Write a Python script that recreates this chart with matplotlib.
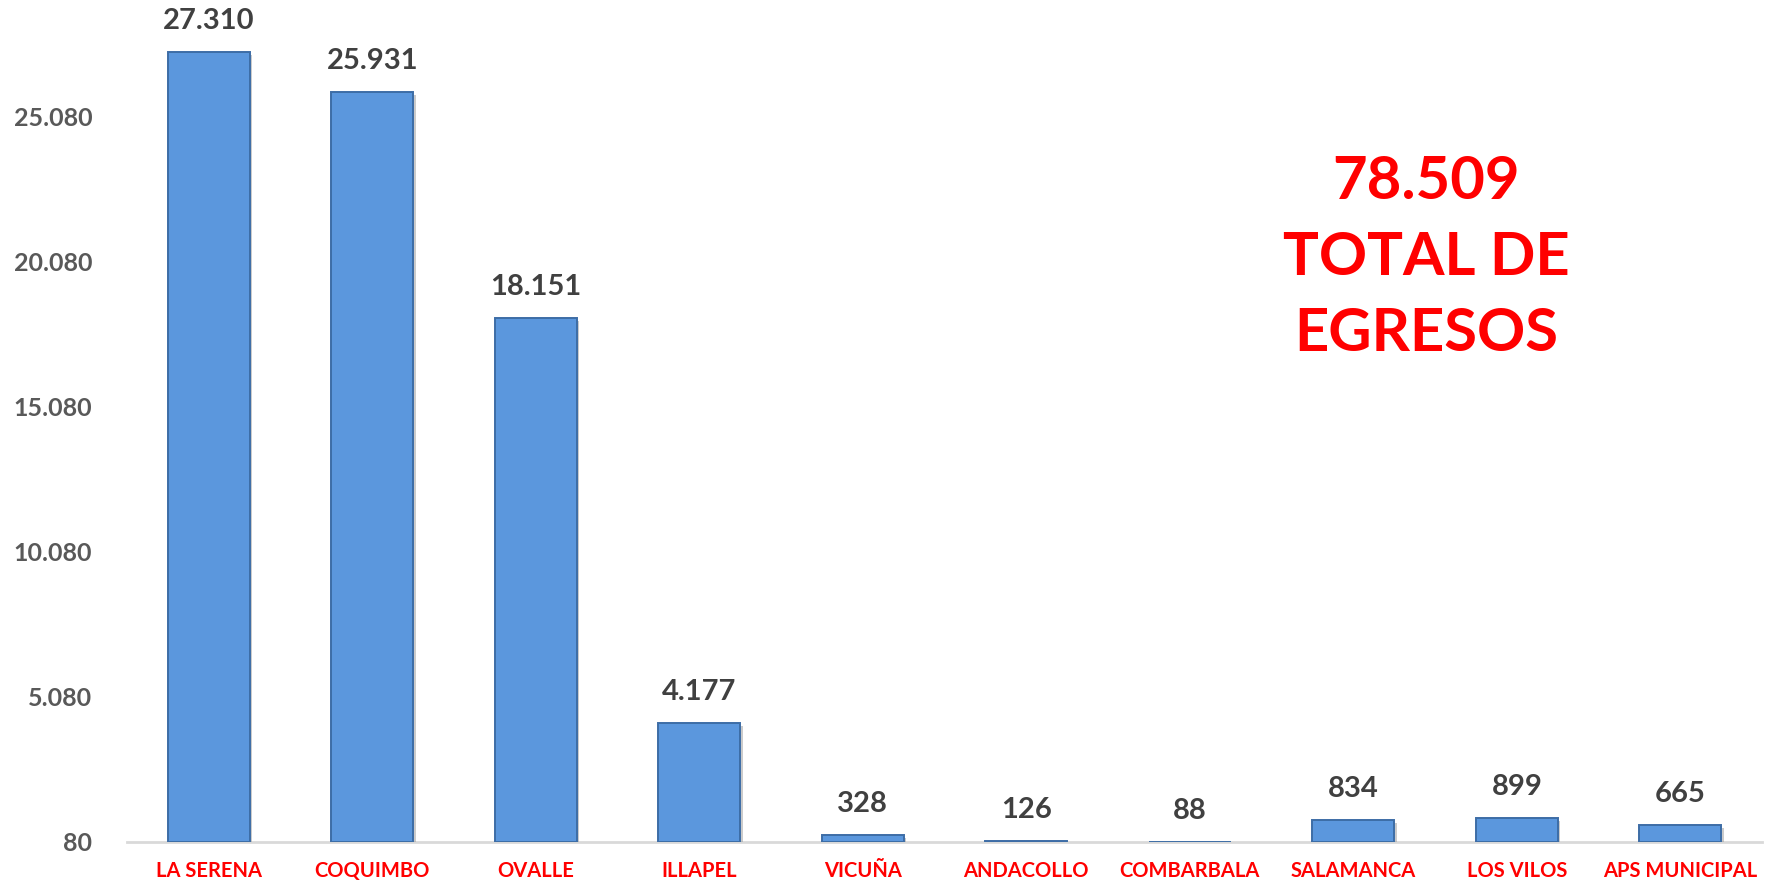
import matplotlib
matplotlib.use("Agg")
from matplotlib import pyplot as plt
from matplotlib import patheffects
from matplotlib.ticker import FuncFormatter

# data
comunas = ['LA SERENA', 'COQUIMBO', 'OVALLE', 'ILLAPEL', 'VICUÑA',
           'ANDACOLLO', 'COMBARBALA', 'SALAMANCA', 'LOS VILOS', 'APS MUNICIPAL']
egresos = [27310, 25931, 18151, 4177, 328, 126, 88, 834, 899, 665]
yticks = [80, 5080, 10080, 15080, 20080, 25080]
total = 78509
base = 80


def miles(v, pos=None):
    return '{:,.0f}'.format(v).replace(',', '.')


plt.rcParams['font.family'] = ['Lato', 'DejaVu Sans']

fig = plt.figure(figsize=(17.77, 8.85), dpi=100)
ax = fig.add_axes([0.0715, 0.0486, 0.9201, 0.9514])

x = range(len(comunas))
heights = [v - base for v in egresos]
bars = ax.bar(x, heights, bottom=base, width=0.5, color='#5B97DD',
              edgecolor='#3D6DA6', linewidth=1.4, zorder=3)
for b in bars:
    b.set_path_effects([patheffects.SimplePatchShadow(offset=(2, -2), shadow_rgbFace='#999999', alpha=0.5),
                        patheffects.Normal()])

for xi, v in zip(x, egresos):
    ax.annotate(miles(v), (xi, v), xytext=(0, 13), textcoords='offset points',
                ha='center', va='bottom', fontsize=21, fontweight='bold',
                color='#404040')

ax.set_xlim(-0.5, len(comunas) - 0.5)
ax.set_ylim(base, 29114)
ax.set_yticks(yticks)
ax.yaxis.set_major_formatter(FuncFormatter(miles))
ax.set_xticks(list(x))
ax.set_xticklabels(comunas)

for s in ['top', 'right', 'left']:
    ax.spines[s].set_visible(False)
ax.spines['bottom'].set_color('#D9D9D9')
ax.spines['bottom'].set_linewidth(2)

ax.tick_params(axis='y', length=0, pad=25, labelsize=18, labelcolor='#595959')
for lab in ax.get_yticklabels():
    lab.set_fontweight('bold')
ax.tick_params(axis='x', length=0, pad=14, labelsize=14.5, labelcolor='#FF0000')
for lab in ax.get_xticklabels():
    lab.set_fontweight('bold')

fig.text(1426 / 1777, 1 - 258 / 885, miles(total) + '\nTOTAL DE\nEGRESOS',
         ha='center', va='center', fontsize=43, fontweight='bold',
         color='#FF0000', linespacing=1.5)

fig.savefig('out.png', dpi=100)
